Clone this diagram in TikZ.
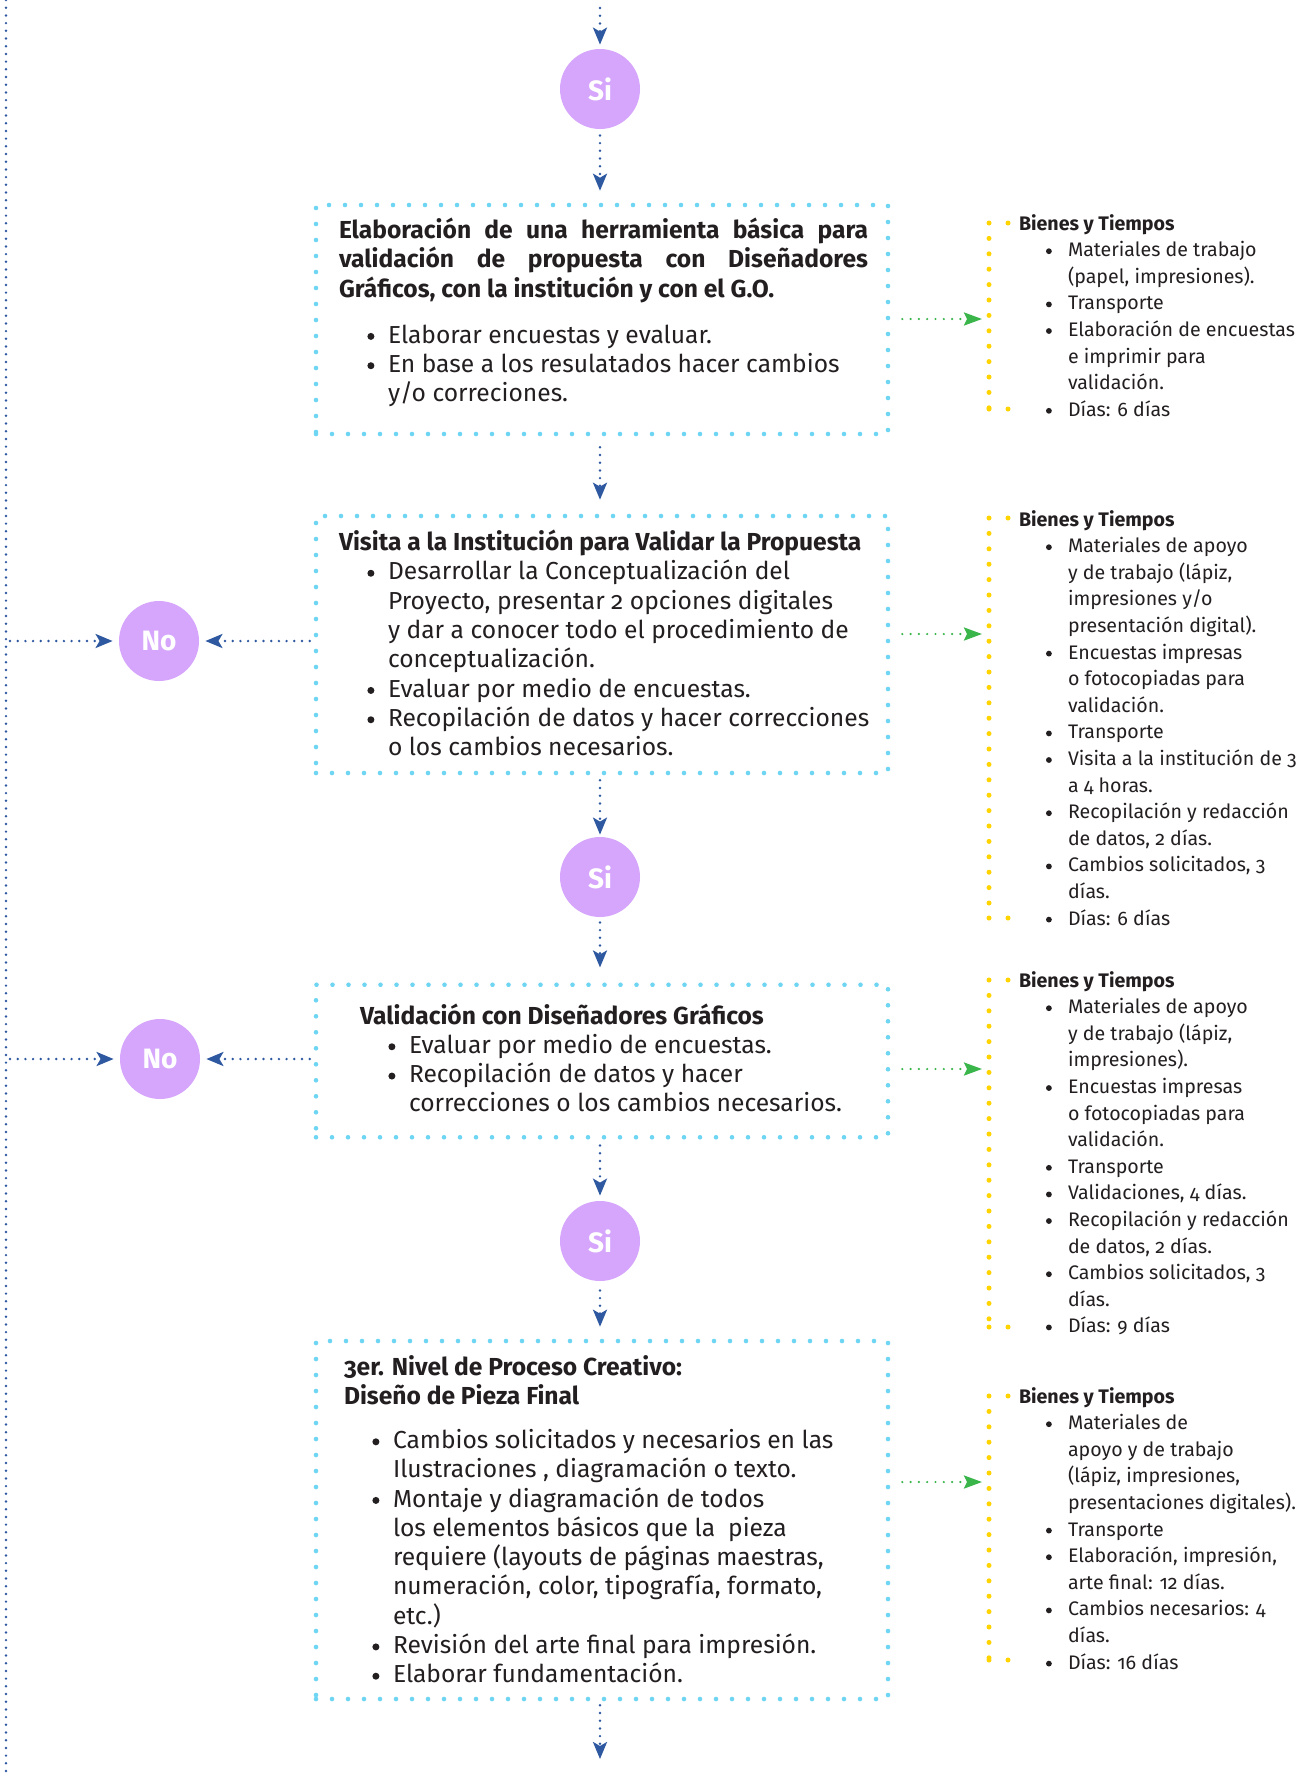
\documentclass[tikz,border=0pt]{standalone}
\usepackage{fontspec}
\setmainfont{Fira Sans}[Numbers=OldStyle]
\usetikzlibrary{arrows.meta,calc}
\definecolor{cyandot}{RGB}{110,214,243}
\definecolor{bluearr}{RGB}{46,88,160}
\definecolor{purp}{RGB}{214,166,252}
\definecolor{greenarr}{RGB}{57,181,74}
\definecolor{yel}{RGB}{255,212,0}
\definecolor{txt}{RGB}{35,31,32}
\newlength\bi \setlength\bi{14.2pt}
\newlength\bw \setlength\bw{10.3pt}
\newlength\sbi \setlength\sbi{13.5pt}
\newlength\sbw \setlength\sbw{11pt}
\newcommand\bigbul{\tikz[baseline=0pt]\fill[txt] (2.2pt,3.3pt) circle[radius=1.75pt];}
\newcommand\smbul{\tikz[baseline=0pt]\fill[txt] (2pt,2.7pt) circle[radius=1.45pt];}
\newcommand\itm{\hspace*{\bi}\makebox[\bw][l]{\bigbul}}
\newcommand\cnt{\hspace*{\bi}\hspace*{\bw}}
\newcommand\sitm{\hspace*{\sbi}\makebox[\sbw][l]{\smbul}}
\newcommand\scnt{\hspace*{\sbi}\hspace*{\sbw}}
\newcommand\fl[1]{\rule{0pt}{#1}}
\newcommand\mainsz{\fontsize{12.3}{14.65}\selectfont}
\newcommand\smsz{\fontsize{9.8}{13.3}\selectfont}
\begin{document}
\begin{tikzpicture}[x=0.5pt,y=-0.5pt,
 cbox/.style={draw=cyandot,line width=2.3pt,dash pattern=on 0pt off 8pt,line cap=round,rectangle,inner sep=0pt,minimum width=286pt},
 dec/.style={circle,fill=purp,minimum size=40pt,inner sep=0pt,text=white,font=\fontsize{14}{16}\selectfont\bfseries},
 barr/.style={draw=bluearr,line width=1.35pt,dash pattern=on 0pt off 3.85pt,line cap=round,-{Stealth[length=8.5pt,width=7pt,inset=2pt]}},
 bline/.style={draw=bluearr,line width=1.35pt,dash pattern=on 0pt off 3.85pt,line cap=round},
 garr/.style={draw=greenarr,line width=1.2pt,dash pattern=on 0pt off 4.15pt,line cap=round,-{Stealth[length=9pt,width=6.5pt,inset=1.5pt]}},
 ybr/.style={draw=yel,line width=2.5pt,dash pattern=on 0pt off 7.7pt,line cap=round},
 blk/.style={anchor=north west,inner sep=0pt,outer sep=0pt,align=left,text=txt,font=\mainsz},
 sblk/.style={anchor=north west,inner sep=0pt,outer sep=0pt,align=left,text=txt,font=\smsz},
]
\path[use as bounding box,fill=white] (0,0) rectangle (1314,1785);

% boxes
\node[cbox,minimum height=114.5pt] (box1) at (602,319.5) {};
\node[cbox,minimum height=128.5pt] (box2) at (602,644.5) {};
\node[cbox,minimum height=76.25pt] (box3) at (602,1061) {};
\node[cbox,minimum height=179pt] (box4) at (602,1520) {};

% decision circles
\node[dec] (si1) at (600,89) {Si};
\node[dec] (si2) at (600,877) {Si};
\node[dec] (si3) at (600,1241) {Si};
\node[dec] (no1) at (159,641) {No};
\node[dec] (no2) at (160,1059) {No};

% box texts
\node[blk,text width=264.5pt,align=justify,font=\mainsz\bfseries] (t1a) at (339,218)
 {\noindent\fl{10pt}Elaboración de una herramienta básica para\linebreak validación de propuesta con Diseñadores\linebreak Gráficos, con la institución y con el G.O.};
\node[blk] (t1b) at (339,323)
 {\fl{10pt}\itm Elaborar encuestas y evaluar.\\
  \itm En base a los resulatados hacer cambios\\
  \cnt y/o correciones.};

\node[blk] (t2) at (339,530)
 {\fl{10pt}\textbf{Visita a la Institución para Validar la Propuesta}\\
  \itm Desarrollar la Conceptualización del\\
  \cnt Proyecto, presentar 2 opciones digitales\\
  \cnt y dar a conocer todo el procedimiento de\\
  \cnt conceptualización.\\
  \itm Evaluar por medio de encuestas.\\
  \itm Recopilación de datos y hacer correcciones\\
  \cnt o los cambios necesarios.};

\node[blk] (t3) at (360,1003.5)
 {\fl{10pt}\textbf{Validación con Diseñadores Gráficos}\\
  \itm Evaluar por medio de encuestas.\\
  \itm Recopilación de datos y hacer\\
  \cnt correcciones o los cambios necesarios.};

\node[blk] (t4) at (344,1355)
 {\fl{10pt}\textbf{3er. Nivel de Proceso Creativo:}\\
  \textbf{Diseño de Pieza Final}\\[7.4pt]
  \itm Cambios solicitados y necesarios en las\\
  \cnt Ilustraciones , diagramación o texto.\\
  \itm Montaje y diagramación de todos\\
  \cnt los elementos básicos que la\ \ pieza\\
  \cnt requiere (layouts de páginas maestras,\\
  \cnt numeración, color, tipografía, formato,\\
  \cnt etc.)\\
  \itm Revisión del arte final para impresión.\\
  \itm Elaborar fundamentación.};

% Bienes y Tiempos
\node[sblk] (b1) at (1019,212)
 {\fl{9pt}\textbf{Bienes y Tiempos}\\
  \sitm Materiales de trabajo\\
  \scnt (papel, impresiones).\\
  \sitm Transporte\\
  \sitm Elaboración de encuestas\\
  \scnt e imprimir para\\
  \scnt validación.\\
  \sitm Días: 6 días};

\node[sblk] (b2) at (1019,508)
 {\fl{9pt}\textbf{Bienes y Tiempos}\\
  \sitm Materiales de apoyo\\
  \scnt y de trabajo (lápiz,\\
  \scnt impresiones y/o\\
  \scnt presentación digital).\\
  \sitm Encuestas impresas\\
  \scnt o fotocopiadas para\\
  \scnt validación.\\
  \sitm Transporte\\
  \sitm Visita a la institución de 3\\
  \scnt a 4 horas.\\
  \sitm Recopilación y redacción\\
  \scnt de datos, 2 días.\\
  \sitm Cambios solicitados, 3\\
  \scnt días.\\
  \sitm Días: 6 días};

\node[sblk] (b3) at (1019,969)
 {\fl{9pt}\textbf{Bienes y Tiempos}\\
  \sitm Materiales de apoyo\\
  \scnt y de trabajo (lápiz,\\
  \scnt impresiones).\\
  \sitm Encuestas impresas\\
  \scnt o fotocopiadas para\\
  \scnt validación.\\
  \sitm Transporte\\
  \sitm Validaciones, 4 días.\\
  \sitm Recopilación y redacción\\
  \scnt de datos, 2 días.\\
  \sitm Cambios solicitados, 3\\
  \scnt días.\\
  \sitm Días: 9 días};

\node[sblk] (b4) at (1019,1385)
 {\fl{9pt}\textbf{Bienes y Tiempos}\\
  \sitm Materiales de\\
  \scnt apoyo y de trabajo\\
  \scnt (lápiz, impresiones,\\
  \scnt presentaciones digitales).\\
  \sitm Transporte\\
  \sitm Elaboración, impresión,\\
  \scnt arte final: 12 días.\\
  \sitm Cambios necesarios: 4\\
  \scnt días.\\
  \sitm Días: 16 días};

% yellow brackets
\coordinate (y1t) at (989,223);  \coordinate (y1b) at (989,409);  \coordinate (y1m) at (989,319);
\coordinate (y2t) at (989,518);  \coordinate (y2b) at (989,918);  \coordinate (y2m) at (989,634);
\coordinate (y3t) at (989,980);  \coordinate (y3b) at (989,1327); \coordinate (y3m) at (989,1069);
\coordinate (y4t) at (989,1396); \coordinate (y4b) at (989,1660); \coordinate (y4m) at (989,1482);
\foreach \k in {1,2,3,4}{
  \draw[ybr] (y\k t) -- (y\k b);
  \fill[yel] (y\k b) circle (1.25pt);
  \fill[yel] ($(y\k t)+(19,0)$) circle (1.25pt);
  \fill[yel] ($(y\k b)+(19,0)$) circle (1.25pt);
}

% green arrows
\draw[garr,shorten <=6pt,shorten >=3.5pt] (box1.east |- y1m) -- (y1m);
\draw[garr,shorten <=6pt,shorten >=3.5pt] (box2.east |- y2m) -- (y2m);
\draw[garr,shorten <=6pt,shorten >=3.5pt] (box3.east |- y3m) -- (y3m);
\draw[garr,shorten <=6pt,shorten >=3.5pt] (box4.east |- y4m) -- (y4m);

% main vertical flow
\coordinate (top) at (600,8);
\coordinate (bot) at (600,1759);
\draw[barr,shorten >=2pt] (top) -- (si1.north);
\draw[barr,shorten <=3pt,shorten >=6pt] (si1.south) -- (si1.south |- box1.north);
\draw[barr,shorten <=5.5pt,shorten >=7pt] (si1.south |- box1.south) -- (si1.south |- box2.north);
\draw[barr,shorten <=2.5pt,shorten >=1pt] (si2.north |- box2.south) -- (si2.north);
\draw[barr,shorten <=2.5pt,shorten >=7.5pt] (si2.south) -- (si2.south |- box3.north);
\draw[barr,shorten <=3pt,shorten >=2.5pt] (si3.north |- box3.south) -- (si3.north);
\draw[barr,shorten <=4.5pt,shorten >=6pt] (si3.south) -- (si3.south |- box4.north);
\draw[barr,shorten <=2pt] (si3.south |- box4.south) -- (bot);

% left return line and No branches
\coordinate (ltop) at (6,0);
\coordinate (lbot) at (6,1778);
\coordinate (l1) at (6,641);
\coordinate (l2) at (6,1059);
\draw[bline] (ltop) -- (lbot);
\draw[barr,shorten <=2pt,shorten >=3pt] (l1) -- (no1.west);
\draw[barr,shorten <=2pt,shorten >=3pt] (l2) -- (no2.west);
\draw[barr,shorten <=2pt,shorten >=3pt] (box2.west |- no1) -- (no1.east);
\draw[barr,shorten <=2pt,shorten >=3pt] (box3.west |- no2) -- (no2.east);
\end{tikzpicture}
\end{document}
